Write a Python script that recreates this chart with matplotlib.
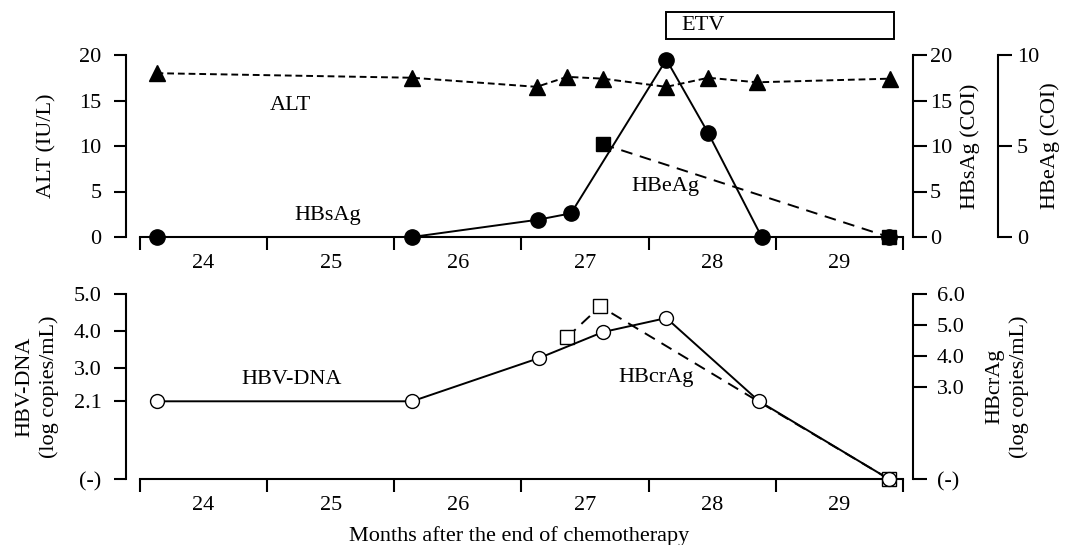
import matplotlib.pyplot as plt
from matplotlib.patches import Rectangle

plt.rcParams['font.family'] = ['Liberation Serif', 'DejaVu Serif']
plt.rcParams['font.size'] = 16

# months after the end of chemotherapy
months = [24, 25, 26, 27, 28, 29]

alt_x = [24.13, 26.14, 27.12, 27.36, 27.64, 28.14, 28.47, 28.85, 29.90]
alt_y = [18.0, 17.5, 16.5, 17.6, 17.4, 16.5, 17.5, 17.0, 17.4]

hbsag_x = [24.13, 26.14, 27.13, 27.39, 28.14, 28.47, 28.89, 29.89]
hbsag_y = [0, 0, 1.9, 2.6, 19.5, 11.4, 0, 0]

hbeag_x = [27.64, 29.89]
hbeag_y = [5.1, 0]

dna_x = [24.13, 26.14, 27.14, 27.64, 28.14, 28.87, 29.89]
dna_y = [2.1, 2.1, 3.27, 3.97, 4.35, 2.1, 0]

crag_x = [27.36, 27.62, 28.87, 29.89]
crag_y = [4.6, 5.6, 2.5, 0]

W, H = 1066, 545
fig = plt.figure(figsize=(W / 100, H / 100), dpi=100)
L, R = 126 / W, 913 / W
ax1 = fig.add_axes([L, 1 - 237 / H, R - L, (237 - 55) / H])
ax2 = fig.add_axes([L, 1 - 479 / H, R - L, (479 - 294) / H])


def style_x(ax):
    ax.set_xlim(23.89, 30.08)
    ax.spines['bottom'].set_bounds(24, 30)
    ax.spines['top'].set_visible(False)
    ax.spines['right'].set_visible(False)
    ax.set_xticks(range(24, 31))
    ax.set_xticklabels([])
    ax.set_xticks([m + 0.5 for m in months], minor=True)
    ax.set_xticklabels([str(m) for m in months], minor=True)
    ax.tick_params(axis='x', which='major', direction='out', length=9.5, width=1.5)
    ax.tick_params(axis='x', which='minor', length=0, pad=12)
    for s in ax.spines.values():
        s.set_linewidth(1.5)
    ax.tick_params(axis='y', direction='out', length=8.6, width=1.5, pad=9)


def style_right(tw, pad, pos=None):
    for k in ['left', 'top', 'bottom']:
        tw.spines[k].set_visible(False)
    tw.spines['right'].set_linewidth(1.5)
    if pos is not None:
        tw.spines['right'].set_position(('axes', pos))
    tw.tick_params(axis='y', direction='out', length=10, width=1.5, pad=pad)


def place_ylabel(ax, x):
    ax.yaxis.set_label_coords(x, 0.5)
    ax.yaxis.label.set_verticalalignment('center')


# ---- top panel ----
style_x(ax1)
ax1.set_ylim(0, 20)
ax1.set_yticks([0, 5, 10, 15, 20])
ax1.set_ylabel('ALT (IU/L)')
place_ylabel(ax1, -0.100)

ax1b = ax1.twinx()
ax1b.set_ylim(0, 20)
ax1b.set_yticks([0, 5, 10, 15, 20])
ax1b.set_ylabel('HBsAg (COI)')
style_right(ax1b, 2)
place_ylabel(ax1b, 1.072)

ax1c = ax1.twinx()
ax1c.set_ylim(0, 10)
ax1c.set_yticks([0, 5, 10])
ax1c.set_ylabel('HBeAg (COI)')
style_right(ax1c, 3.5, 1 + 85 / 787)
place_ylabel(ax1c, 1.174)

ax1.plot(alt_x, alt_y, color='black', lw=1.4, ls=(0, (3.5, 2)), marker='^',
         ms=11.5, clip_on=False, zorder=3)
ax1b.plot(hbsag_x, hbsag_y, color='black', lw=1.4, marker='o', ms=11,
          clip_on=False, zorder=3)
ax1c.plot(hbeag_x, hbeag_y, color='black', lw=1.4, ls=(0, (6, 4)), marker='s',
          ms=10, clip_on=False, zorder=4)

ax1.text(25.18, 14.4, 'ALT', ha='center', va='center')
ax1.text(25.48, 2.4, 'HBsAg', ha='center', va='center')
ax1.text(28.13, 5.5, 'HBeAg', ha='center', va='center')

trans = ax1.get_xaxis_transform()
ax1.add_patch(Rectangle((28.14, 1.088), 29.93 - 28.14, 1.236 - 1.088,
                        transform=trans, fill=False, lw=1.4, clip_on=False))
ax1.text(28.43, 1.162, 'ETV', transform=trans, ha='center', va='center')

# ---- bottom panel ----
style_x(ax2)
ax2.set_ylim(0, 5)
ax2.set_yticks([0, 2.1, 3, 4, 5])
ax2.set_yticklabels(['(-)', '2.1', '3.0', '4.0', '5.0'])
ax2.set_ylabel('HBV-DNA\n(log copies/mL)', linespacing=1.35)
place_ylabel(ax2, -0.113)
ax2.set_xlabel('Months after the end of chemotherapy')
ax2.xaxis.set_label_coords(0.5, -0.31)
ax2.xaxis.label.set_verticalalignment('center')

ax2b = ax2.twinx()
ax2b.set_ylim(0, 6)
ax2b.set_yticks([0, 3, 4, 5, 6])
ax2b.set_yticklabels(['(-)', '3.0', '4.0', '5.0', '6.0'])
ax2b.set_ylabel('HBcrAg\n(log copies/mL)', linespacing=1.35)
style_right(ax2b, 7)
place_ylabel(ax2b, 1.12)

ax2b.plot(crag_x, crag_y, color='black', lw=1.4, ls=(0, (6, 4)), marker='s',
          ms=9.5, mfc='white', markevery=[0, 1, 3], clip_on=False, zorder=3)
ax2.plot(dna_x, dna_y, color='black', lw=1.4, marker='o', ms=10, mfc='white',
         clip_on=False, zorder=4)
ax2.set_zorder(ax2b.get_zorder() + 1)
ax2.patch.set_visible(False)

ax2.text(25.19, 2.68, 'HBV-DNA', ha='center', va='center')
ax2.text(28.06, 2.73, 'HBcrAg', ha='center', va='center')

plt.savefig('out.png', dpi=100)
